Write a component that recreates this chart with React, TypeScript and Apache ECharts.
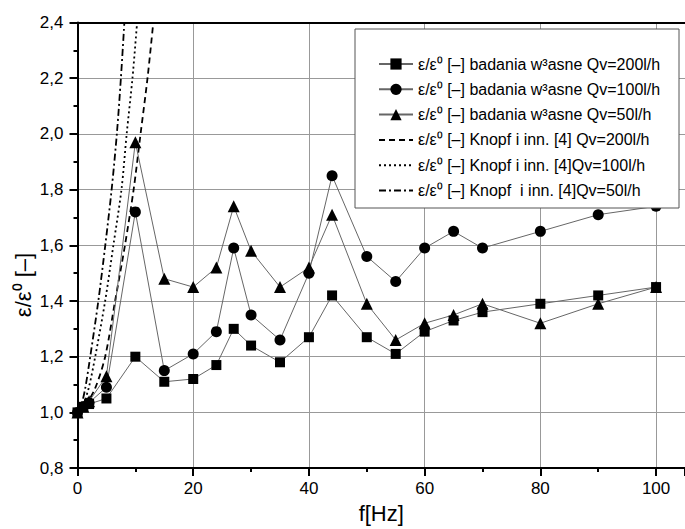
import React, { useEffect, useRef } from "react";
import * as echarts from "echarts";

// Measured frequencies [Hz]
const freq = [0, 1, 2, 5, 10, 15, 20, 24, 27, 30, 35, 40, 44, 50, 55, 60, 65, 70, 80, 90, 100];
// Own measurements ε/ε0
const own200 = [1.0, 1.02, 1.03, 1.05, 1.2, 1.11, 1.12, 1.17, 1.3, 1.24, 1.18, 1.27, 1.42, 1.27, 1.21, 1.29, 1.33, 1.36, 1.39, 1.42, 1.45];
const own100 = [1.0, 1.02, 1.035, 1.09, 1.72, 1.15, 1.21, 1.29, 1.59, 1.35, 1.26, 1.5, 1.85, 1.56, 1.47, 1.59, 1.65, 1.59, 1.65, 1.71, 1.74];
const own50 = [1.0, 1.02, 1.04, 1.13, 1.97, 1.48, 1.45, 1.52, 1.74, 1.58, 1.45, 1.52, 1.71, 1.39, 1.26, 1.32, 1.35, 1.39, 1.32, 1.39, 1.45];

// Knopf et al. curves
const knopf200F = [0, 1.5, 3.06, 4.78, 6.5, 8.2, 9.7, 10.9, 12.1, 13.1];
const knopf200V = [1.0, 1.03, 1.087, 1.2, 1.4, 1.6, 1.8, 2.0, 2.2, 2.4];
const knopf100F = [0, 1.0, 1.93, 3.06, 4.78, 6.2, 7.6, 8.5, 9.5, 10.3];
const knopf100V = [1.0, 1.03, 1.087, 1.2, 1.4, 1.6, 1.8, 2.0, 2.2, 2.4];
const knopf50F = [0, 0.7, 1.34, 2.2, 3.6, 4.8, 5.9, 6.8, 7.5, 8.1];
const knopf50V = [1.0, 1.03, 1.087, 1.2, 1.4, 1.6, 1.8, 2.0, 2.2, 2.4];

const names = [
  "ε/ε⁰ [–] badania w³asne Qv=200l/h",
  "ε/ε⁰ [–] badania w³asne Qv=100l/h",
  "ε/ε⁰ [–] badania w³asne Qv=50l/h",
  "ε/ε⁰ [–] Knopf i inn. [4] Qv=200l/h",
  "ε/ε⁰ [–] Knopf i inn. [4]Qv=100l/h",
  "ε/ε⁰ [–] Knopf  i inn. [4]Qv=50l/h",
];

const FONT = "'Liberation Sans', Arial, sans-serif";

const pairs = (xs: number[], ys: number[]) => xs.map((x, i) => [x, ys[i]]);

export default function App() {
  const ref = useRef<HTMLDivElement>(null);
  useEffect(() => {
    if (!ref.current) return;
    const chart = echarts.init(ref.current, undefined, { renderer: "svg" });
    const measured = (name: string, ys: number[], symbol: string, size: number) => ({
      name,
      type: "line",
      data: pairs(freq, ys),
      symbol,
      symbolSize: size,
      itemStyle: { color: "#000" },
      lineStyle: { color: "#666", width: 1 },
      z: 3,
    });
    const knopf = (name: string, xs: number[], ys: number[], dash: number[]) => ({
      name,
      type: "line",
      data: pairs(xs, ys),
      symbol: "none",
      showSymbol: false,
      smooth: 0.3,
      itemStyle: { color: "rgba(0,0,0,0)", borderWidth: 0 },
      lineStyle: { color: "#000", width: 1.8, type: dash },
      z: 2,
    });
    chart.setOption({
      animation: false,
      grid: { left: 77.5, right: -2.6, top: 22.5, bottom: 39.5 },
      xAxis: [
        {
          type: "value",
          min: 0,
          max: 105,
          interval: 20,
          name: "f[Hz]",
          nameLocation: "middle",
          nameGap: 17,
          nameTextStyle: { fontSize: 22, fontFamily: FONT, color: "#000", verticalAlign: "top" },
          axisLine: { show: true, onZero: false, lineStyle: { color: "#000", width: 2 } },
          axisTick: { show: true, inside: false, length: 8, lineStyle: { color: "#000", width: 2 } },
          minorTick: { show: true, splitNumber: 2, length: 4, lineStyle: { color: "#000", width: 2 } },
          axisLabel: { fontSize: 17, fontFamily: FONT, color: "#000", margin: 12, showMaxLabel: false },
          splitLine: { show: true, lineStyle: { color: "#999", width: 1 } },
        },
        {
          type: "value",
          position: "top",
          min: 0,
          max: 105,
          axisLine: { show: true, onZero: false, lineStyle: { color: "#000", width: 2 } },
          axisTick: { show: false },
          axisLabel: { show: false },
          splitLine: { show: false },
        },
      ],
      yAxis: {
        type: "value",
        min: 0.8,
        max: 2.4,
        interval: 0.2,
        axisLine: { show: true, onZero: false, lineStyle: { color: "#000", width: 2 } },
        axisTick: { show: true, inside: false, length: 8, lineStyle: { color: "#000", width: 2 } },
        minorTick: { show: true, splitNumber: 2, length: 4, lineStyle: { color: "#000", width: 2 } },
        axisLabel: {
          fontSize: 17,
          fontFamily: FONT,
          color: "#000",
          margin: 14,
          formatter: (v: number) => v.toFixed(1).replace(".", ","),
        },
        splitLine: { show: true, lineStyle: { color: "#999", width: 1 } },
      },
      legend: {
        orient: "vertical",
        left: 378,
        top: 56,
        itemWidth: 34,
        itemHeight: 14,
        itemGap: 9.3,
        padding: 0,
        data: names,
        textStyle: { fontSize: 16, fontFamily: FONT, color: "#000", lineHeight: 14 },
        z: 5,
      },
      graphic: [
        {
          type: "rect",
          shape: { x: 355, y: 29, width: 324, height: 179 },
          style: { fill: "#fff", stroke: "#555", lineWidth: 1 },
          z: 4,
        },
        {
          type: "text",
          x: 23,
          y: 285,
          rotation: Math.PI / 2,
          style: {
            text: "ε/ε⁰ [–]",
            font: `22px ${FONT}`,
            fill: "#000",
            align: "center",
            verticalAlign: "middle",
          },
          z: 5,
        },
      ],
      series: [
        measured(names[0], own200, "rect", 10),
        measured(names[1], own100, "circle", 11),
        measured(names[2], own50, "triangle", 12),
        knopf(names[3], knopf200F, knopf200V, [6, 4]),
        knopf(names[4], knopf100F, knopf100V, [2, 3]),
        knopf(names[5], knopf50F, knopf50V, [7, 3, 2, 3]),
      ],
    });
    return () => chart.dispose();
  }, []);
  return (
    <div
      ref={ref}
      style={{ position: "absolute", left: 0, top: 0, width: 685, height: 529, background: "#fff" }}
    />
  );
}
